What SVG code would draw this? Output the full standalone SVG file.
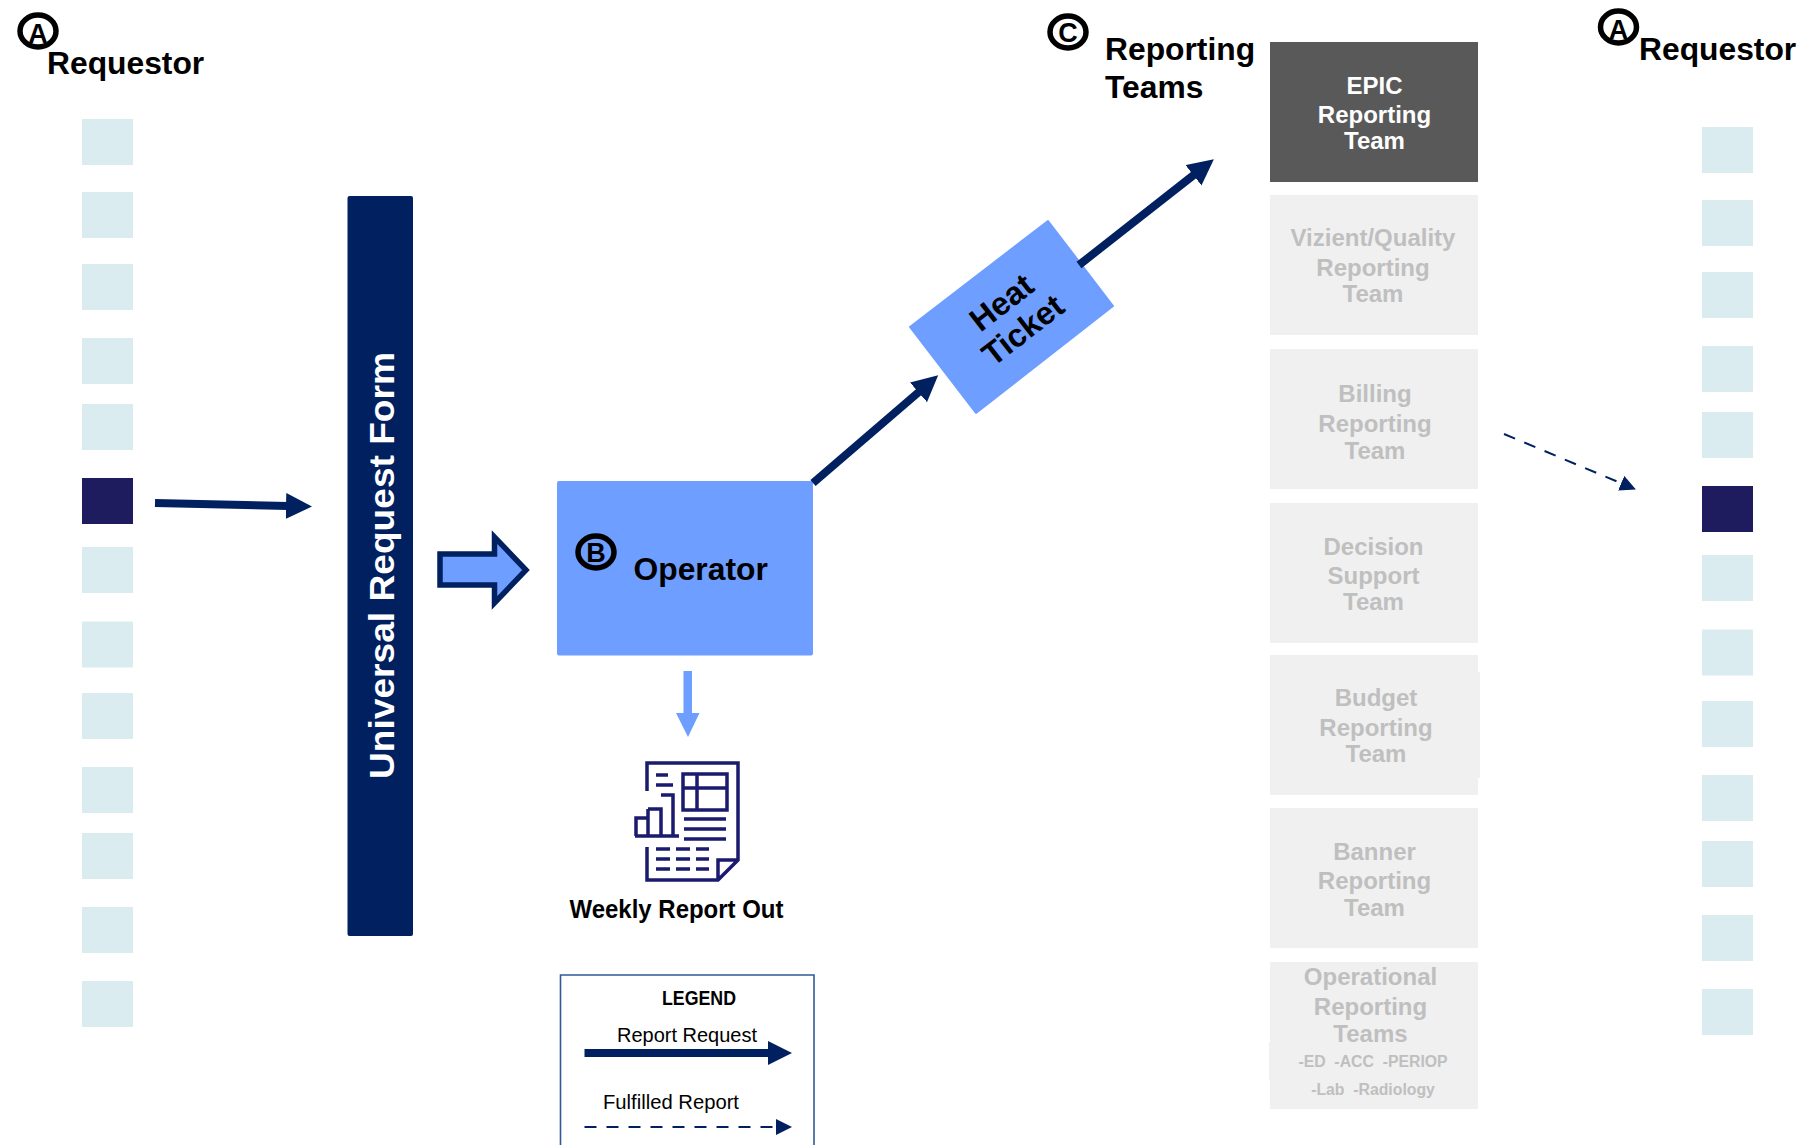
<svg xmlns="http://www.w3.org/2000/svg" width="1805" height="1145" viewBox="0 0 1805 1145">
<style>
text{font-family:"Liberation Sans",Arial,sans-serif;font-weight:bold;fill:#000}
.sq{fill:#daecef}.sqd{fill:#1f1b5f}
.hd{font-size:31.8px}
.team{fill:#f0f0f0}
.tt{font-size:24px;fill:#bfbfbf;text-anchor:middle}
.ts{font-size:15.8px;fill:#bfbfbf;text-anchor:middle}
.tw{font-size:24px;fill:#fff;text-anchor:middle}
.ring{fill:none;stroke:#000;stroke-width:5.5}
.let{font-size:27px;text-anchor:middle}
.main{fill:none;stroke:#002060;stroke-width:8}
.dash{fill:none;stroke:#002060;stroke-width:2;stroke-dasharray:12 10}
.ic{fill:none;stroke:#1a1a6e;stroke-width:3.5}
.lg{font-weight:normal;font-size:20px}
</style>
<defs>
<marker id="h1" markerUnits="userSpaceOnUse" markerWidth="30" markerHeight="28" refX="2" refY="13" orient="auto"><path d="M0 0L26 13L0 26Z" fill="#002060"/></marker>
<marker id="h2" markerUnits="userSpaceOnUse" markerWidth="20" markerHeight="20" refX="2" refY="8" orient="auto"><path d="M0 0L16 8L0 16Z" fill="#002060"/></marker>
</defs>
<g id="requestor-left">
<ellipse class="ring" cx="38" cy="31" rx="18" ry="16"/><text class="let" x="38" y="43">A</text>
<text class="hd" x="47" y="74">Requestor</text>
<rect class="sq" x="82" y="119" width="51" height="46"/><rect class="sq" x="82" y="192" width="51" height="46"/><rect class="sq" x="82" y="264" width="51" height="46"/><rect class="sq" x="82" y="338" width="51" height="46"/><rect class="sq" x="82" y="404" width="51" height="46"/><rect class="sqd" x="82" y="478" width="51" height="46"/><rect class="sq" x="82" y="547" width="51" height="46"/><rect class="sq" x="82" y="621.5" width="51" height="46"/><rect class="sq" x="82" y="693" width="51" height="46"/><rect class="sq" x="82" y="767" width="51" height="46"/><rect class="sq" x="82" y="833" width="51" height="46"/><rect class="sq" x="82" y="907" width="51" height="46"/><rect class="sq" x="82" y="981" width="51" height="46"/>
</g>
<g id="requestor-right">
<ellipse class="ring" cx="1618.5" cy="27" rx="18" ry="16"/><text class="let" x="1618.5" y="39">A</text>
<text class="hd" x="1639" y="60">Requestor</text>
<rect class="sq" x="1702" y="127" width="51" height="46"/><rect class="sq" x="1702" y="200" width="51" height="46"/><rect class="sq" x="1702" y="272" width="51" height="46"/><rect class="sq" x="1702" y="346" width="51" height="46"/><rect class="sq" x="1702" y="412" width="51" height="46"/><rect class="sqd" x="1702" y="486" width="51" height="46"/><rect class="sq" x="1702" y="555" width="51" height="46"/><rect class="sq" x="1702" y="629.5" width="51" height="46"/><rect class="sq" x="1702" y="701" width="51" height="46"/><rect class="sq" x="1702" y="775" width="51" height="46"/><rect class="sq" x="1702" y="841" width="51" height="46"/><rect class="sq" x="1702" y="915" width="51" height="46"/><rect class="sq" x="1702" y="989" width="51" height="46"/>
</g>
<g id="universal-form">
<rect x="347.5" y="196" width="65.5" height="740" rx="2" fill="#002060"/>
<text x="0" y="0" transform="translate(394 779) rotate(-90)" font-size="35" textLength="427" lengthAdjust="spacingAndGlyphs" style="fill:#fff">Universal Request Form</text>
</g>
<g id="operator">
<rect x="557" y="481" width="256" height="174.5" rx="2" fill="#6e9eff"/>
<ellipse class="ring" cx="596" cy="552" rx="18" ry="16"/><text class="let" x="596" y="562">B</text>
<text class="hd" x="633.5" y="580">Operator</text>
</g>
<g id="heat-ticket">
<path d="M1048 221L1113 306L976 413L910 327Z" fill="#6e9eff" stroke="#6e9eff" stroke-width="2" stroke-linejoin="round"/>
<text transform="translate(1012 316) rotate(-37.8)" font-size="32.5" text-anchor="middle"><tspan x="0" y="-6">Heat</tspan><tspan x="0" y="29">Ticket</tspan></text>
</g>
<g id="weekly-report">
<path class="ic" d="M647 791V763H738V860L718 880H647V847M718 880V860H738"/>
<path class="ic" d="M656 775H668M656 785H673"/>
<path class="ic" d="M683 774H727V810H683ZM697 774V810M683 788H727"/>
<path class="ic" d="M635 836H679M636 836V818H648V836M648 809H661V836M648 818V809M661 795H673V836"/>
<path class="ic" d="M684 819H726M684 829H726M684 839H726"/>
<path class="ic" d="M656 849H670M676 849H690M696 849H709M656 859H670M676 859H690M696 859H709M656 869H670M676 869H690M696 869H709"/>
<text x="569.5" y="917.5" font-size="25" textLength="214" lengthAdjust="spacingAndGlyphs">Weekly Report Out</text>
</g>
<g id="reporting-teams-title">
<ellipse class="ring" cx="1068" cy="32" rx="18" ry="16"/><text class="let" x="1068" y="42">C</text>
<text class="hd" x="1105" y="60">Reporting</text><text class="hd" x="1105" y="98">Teams</text>
</g>
<g id="team-epic"><rect x="1270" y="42" width="208" height="140" fill="#595959"/><text class="tw" x="1374.5" y="94">EPIC</text><text class="tw" x="1374.5" y="123">Reporting</text><text class="tw" x="1374.5" y="149">Team</text></g>
<g id="team-vizient"><rect class="team" x="1270" y="195" width="208" height="140"/><text class="tt" x="1373" y="246">Vizient/Quality</text><text class="tt" x="1373" y="276">Reporting</text><text class="tt" x="1373" y="302">Team</text></g>
<g id="team-billing"><rect class="team" x="1270" y="349" width="208" height="140"/><text class="tt" x="1375" y="402">Billing</text><text class="tt" x="1375" y="432">Reporting</text><text class="tt" x="1375" y="459">Team</text></g>
<g id="team-decision"><rect class="team" x="1270" y="503" width="208" height="140"/><text class="tt" x="1373.5" y="555">Decision</text><text class="tt" x="1373.5" y="584">Support</text><text class="tt" x="1373.5" y="610">Team</text></g>
<g id="team-budget"><rect class="team" x="1270" y="655" width="208" height="140"/><rect class="team" x="1478" y="672" width="2" height="106"/><text class="tt" x="1376" y="706">Budget</text><text class="tt" x="1376" y="736">Reporting</text><text class="tt" x="1376" y="762">Team</text></g>
<g id="team-banner"><rect class="team" x="1270" y="808" width="208" height="140"/><text class="tt" x="1374.5" y="860">Banner</text><text class="tt" x="1374.5" y="889">Reporting</text><text class="tt" x="1374.5" y="916">Team</text></g>
<g id="team-operational"><rect class="team" x="1270" y="962" width="208" height="147"/><rect class="team" x="1269" y="1042" width="1" height="38"/><text class="tt" x="1370.5" y="985">Operational</text><text class="tt" x="1370.5" y="1015">Reporting</text><text class="tt" x="1370.5" y="1042">Teams</text><text class="ts" x="1373" y="1067" xml:space="preserve">-ED  -ACC  -PERIOP</text><text class="ts" x="1373" y="1095" xml:space="preserve">-Lab  -Radiology</text></g>
<g id="legend">
<path d="M560.5 1145V975H814V1145" fill="none" stroke="#2f5a96" stroke-width="1.6"/>
<text x="662" y="1005" font-size="20" textLength="74" lengthAdjust="spacingAndGlyphs">LEGEND</text>
<text class="lg" x="617" y="1042" textLength="140" lengthAdjust="spacingAndGlyphs">Report Request</text>
<text class="lg" x="603" y="1109" textLength="136" lengthAdjust="spacingAndGlyphs">Fulfilled Report</text>
<path d="M584.5 1053H768" stroke="#002060" stroke-width="8" fill="none"/><path d="M768 1041L792 1053L768 1065Z" fill="#002060"/>
<path class="dash" d="M584.5 1127H776"/><path d="M776 1119L792 1127L776 1135Z" fill="#002060"/>
</g>
<g id="connectors">
<path class="main" d="M155 503L288 506" marker-end="url(#h1)"/>
<path class="main" d="M813 483L920 391" marker-end="url(#h1)"/>
<path class="main" d="M1079 265L1195 174" marker-end="url(#h1)"/>
<path d="M440 554H494.5V537L526 570L494.5 603V585H440Z" fill="#6e9eff" stroke="#002060" stroke-width="5.5"/>
<path d="M683.5 671H692V713H699.5L688 737L676 713H683.5Z" fill="#6e9eff"/>
<path class="dash" d="M1504 434L1623 484" marker-end="url(#h2)"/>
</g>
</svg>
